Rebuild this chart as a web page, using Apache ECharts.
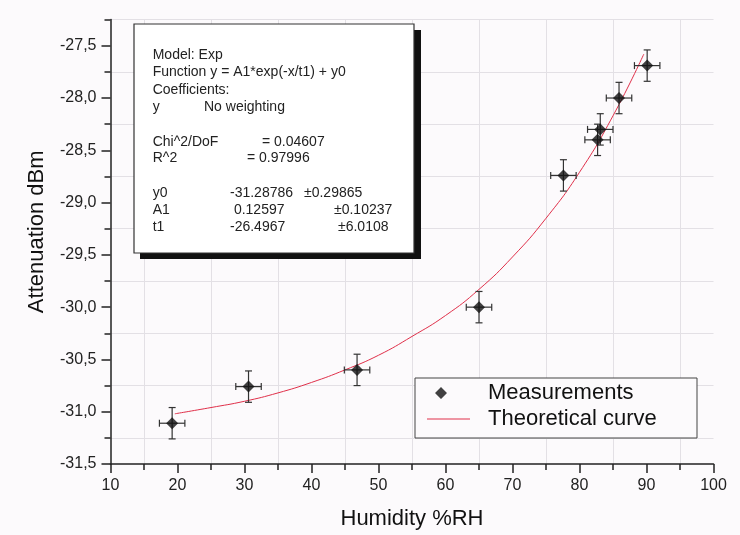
<!DOCTYPE html>
<html>
<head>
<meta charset="utf-8">
<script src="https://cdn.jsdelivr.net/npm/echarts@6/dist/echarts.min.js"></script>
<style>
html,body{margin:0;padding:0;background:#fcfafc;}
#c{width:740px;height:535px;}
</style>
</head>
<body>
<div id="c"></div>
<script>
// ---- data ----
const humidity      = [19.2, 30.6, 46.8, 65.0, 77.6, 83.1, 82.7, 85.9, 90.1];
const attenuation   = [-31.11, -30.76, -30.60, -30.00, -28.74, -28.30, -28.40, -28.00, -27.69];
const humidityErr   = [1.9, 1.9, 1.9, 1.9, 1.9, 1.9, 1.9, 1.9, 1.9];
const attenuationErr= [0.15, 0.15, 0.15, 0.15, 0.15, 0.15, 0.15, 0.15, 0.15];

const curveX = [19.6, 25, 30, 35, 40, 45, 50, 55, 60, 65, 70, 75, 80, 85, 89.6];
const curveY = [-31.02, -30.96, -30.90, -30.82, -30.72, -30.60, -30.46, -30.28, -30.08, -29.83, -29.52, -29.15, -28.71, -28.17, -27.58];

const xTickValues = [10, 20, 30, 40, 50, 60, 70, 80, 90, 100];
const yTickValues = [-31.5, -31.0, -30.5, -30.0, -29.5, -29.0, -28.5, -28.0, -27.5];
const yTickLabels = ['-31,5', '-31,0', '-30,5', '-30,0', '-29,5', '-29,0', '-28,5', '-28,0', '-27,5'];

const seriesNames = ['Measurements', 'Theoretical curve'];
const axisTitles  = ['Humidity %RH', 'Attenuation dBm'];

const fitHeader  = ['Model: Exp', 'Function y = A1*exp(-x/t1) + y0', 'Coefficients:'];
const fitWeight  = ['y', 'No weighting'];
const fitStats   = [['Chi^2/DoF', '= 0.04607'], ['R^2', '= 0.97996']];
const fitParams  = [['y0', '-31.28786', '\u00b10.29865'], ['A1', ' 0.12597', '\u00b10.10237'], ['t1', '-26.4967', '\u00b16.0108']];

// ---- chart ----
const FONT = '"Liberation Sans", Arial, Helvetica, sans-serif';
const AXIS_COLOR = '#222';
const GRID_COLOR = '#e3e0e5';
const CURVE_COLOR = '#e0304a';
const chart = echarts.init(document.getElementById('c'));

const errData = humidity.map((x, i) => [x, attenuation[i], humidityErr[i], attenuationErr[i]]);
const scatterData = humidity.map((x, i) => [x, attenuation[i]]);
const curveData = curveX.map((x, i) => [x, curveY[i]]);

function renderErr(params, api) {
  const x = api.value(0), y = api.value(1), ex = api.value(2), ey = api.value(3);
  const top = api.coord([x, y + ey]), bot = api.coord([x, y - ey]);
  const lft = api.coord([x - ex, y]), rgt = api.coord([x + ex, y]);
  const cap = 3.5;
  const style = { stroke: '#333', lineWidth: 1.2 };
  const L = (x1, y1, x2, y2) => ({ type: 'line', shape: { x1, y1, x2, y2 }, style });
  return {
    type: 'group',
    children: [
      L(top[0], top[1], bot[0], bot[1]),
      L(top[0] - cap, top[1], top[0] + cap, top[1]),
      L(bot[0] - cap, bot[1], bot[0] + cap, bot[1]),
      L(lft[0], lft[1], rgt[0], rgt[1]),
      L(lft[0], lft[1] - cap, lft[0], lft[1] + cap),
      L(rgt[0], rgt[1] - cap, rgt[0], rgt[1] + cap)
    ]
  };
}

function yLabel(v) {
  for (let i = 0; i < yTickValues.length; i++) {
    if (Math.abs(yTickValues[i] - v) < 1e-6) return yTickLabels[i];
  }
  return '';
}

// legend icons in a 43x12 box (tiny corner marks fix the bounding box)
const CORNERS = ' M0,0L0.01,0L0,0.01Z M43,12L42.99,12L43,11.99Z';
const diamondIcon = 'path://M14,0L20,6L14,12L8,6Z' + CORNERS;
const lineIcon = 'path://M0,5.4L43,5.4L43,6.6L0,6.6Z' + CORNERS;

// info box texts
const boxX = 134, boxY = 24, boxW = 280, boxH = 229;
const lineY = [55, 72.5, 90.5, 107.3, 141.7, 158.3, 192.7, 210, 227.3];
const txt = (text, x, y) => ({
  type: 'text', x, y, z: 12,
  style: { text, fontSize: 14, fontFamily: FONT, fill: '#222', verticalAlign: 'middle' }
});
const boxTexts = [];
fitHeader.forEach((t, i) => boxTexts.push(txt(t, 152.7, lineY[i])));
boxTexts.push(txt(fitWeight[0], 152.7, lineY[3]));
boxTexts.push(txt(fitWeight[1], 204, lineY[3]));
boxTexts.push(txt(fitStats[0][0], 152.7, lineY[4]));
boxTexts.push(txt(fitStats[0][1], 262, lineY[4]));
boxTexts.push(txt(fitStats[1][0], 152.7, lineY[5]));
boxTexts.push(txt(fitStats[1][1], 247, lineY[5]));
const errCol = [304, 334, 338];
fitParams.forEach((p, i) => {
  boxTexts.push(txt(p[0], 152.7, lineY[6 + i]));
  boxTexts.push(txt(p[1], 230, lineY[6 + i]));
  boxTexts.push(txt(p[2], errCol[i], lineY[6 + i]));
});

const option = {
  backgroundColor: '#fcfafc',
  animation: false,
  grid: { left: 110.5, right: 26.5, top: 19.6, bottom: 70, containLabel: false },
  xAxis: {
    type: 'value', min: 10, max: 100, interval: 10,
    axisLine: { show: true, onZero: false, lineStyle: { color: AXIS_COLOR, width: 1.5 } },
    axisTick: { show: true, length: 9, lineStyle: { color: AXIS_COLOR, width: 1.5 } },
    minorTick: { show: true, splitNumber: 2, length: 6, lineStyle: { color: AXIS_COLOR, width: 1.5 } },
    splitLine: { show: false },
    minorSplitLine: { show: true, lineStyle: { color: GRID_COLOR, width: 1 } },
    axisLabel: { fontSize: 16, color: '#222', margin: 14, fontFamily: FONT },
    name: axisTitles[0], nameLocation: 'middle', nameGap: 44,
    nameTextStyle: { fontSize: 22, color: '#111', fontFamily: FONT }
  },
  yAxis: [
    {
      type: 'value', min: -31.5, max: -27.25, interval: 0.5,
      axisLine: { show: true, onZero: false, lineStyle: { color: AXIS_COLOR, width: 1.5 } },
      axisTick: { show: true, length: 9, lineStyle: { color: AXIS_COLOR, width: 1.5 } },
      splitLine: { show: false },
      axisLabel: { fontSize: 16, color: '#222', margin: 14, fontFamily: FONT, formatter: yLabel, showMaxLabel: false },
      name: axisTitles[1], nameLocation: 'middle', nameGap: 63,
      nameTextStyle: { fontSize: 22, color: '#111', fontFamily: FONT, padding: [0, 0, 0, 20] }
    },
    {
      type: 'value', min: -31.5, max: -27.25, interval: 0.25, position: 'left',
      axisLine: { show: false },
      axisTick: { show: true, length: 6, lineStyle: { color: AXIS_COLOR, width: 1.5 } },
      axisLabel: { show: false },
      splitLine: { show: true, lineStyle: { color: ['rgba(0,0,0,0)', GRID_COLOR], width: 1 } }
    }
  ],
  legend: {
    orient: 'vertical', left: 427, top: 382,
    itemWidth: 43, itemHeight: 12, itemGap: 4, padding: 0,
    selectedMode: false, z: 20,
    textStyle: { fontSize: 22, color: '#111', fontFamily: FONT, padding: [0, 0, 0, 13] },
    data: [
      { name: seriesNames[0], icon: diamondIcon, itemStyle: { color: '#111', borderWidth: 0 } },
      { name: seriesNames[1], icon: lineIcon, itemStyle: { color: CURVE_COLOR, borderWidth: 0 } }
    ]
  },
  graphic: [
    { type: 'rect', z: 10, shape: { x: boxX + 6, y: boxY + 6, width: boxW + 1, height: boxH }, style: { fill: '#111' } },
    { type: 'rect', z: 11, shape: { x: boxX, y: boxY, width: boxW, height: boxH }, style: { fill: '#ffffff', stroke: '#333', lineWidth: 1.2 } },
    ...boxTexts,
    { type: 'rect', z: 10, shape: { x: 415, y: 378, width: 282, height: 60 }, style: { fill: '#fcfafc', stroke: '#444', lineWidth: 1 } }
  ],
  series: [
    {
      name: seriesNames[1], type: 'line', data: curveData, smooth: true,
      symbol: 'none', lineStyle: { color: CURVE_COLOR, width: 1 }, itemStyle: { color: CURVE_COLOR }, z: 3
    },
    {
      type: 'custom', data: errData, renderItem: renderErr, z: 4, silent: true,
      encode: { x: 0, y: 1 }
    },
    {
      name: seriesNames[0], type: 'scatter', data: scatterData, symbol: 'diamond', symbolSize: 12,
      itemStyle: { color: '#111' }, z: 5
    }
  ]
};
chart.setOption(option);
</script>
</body>
</html>
